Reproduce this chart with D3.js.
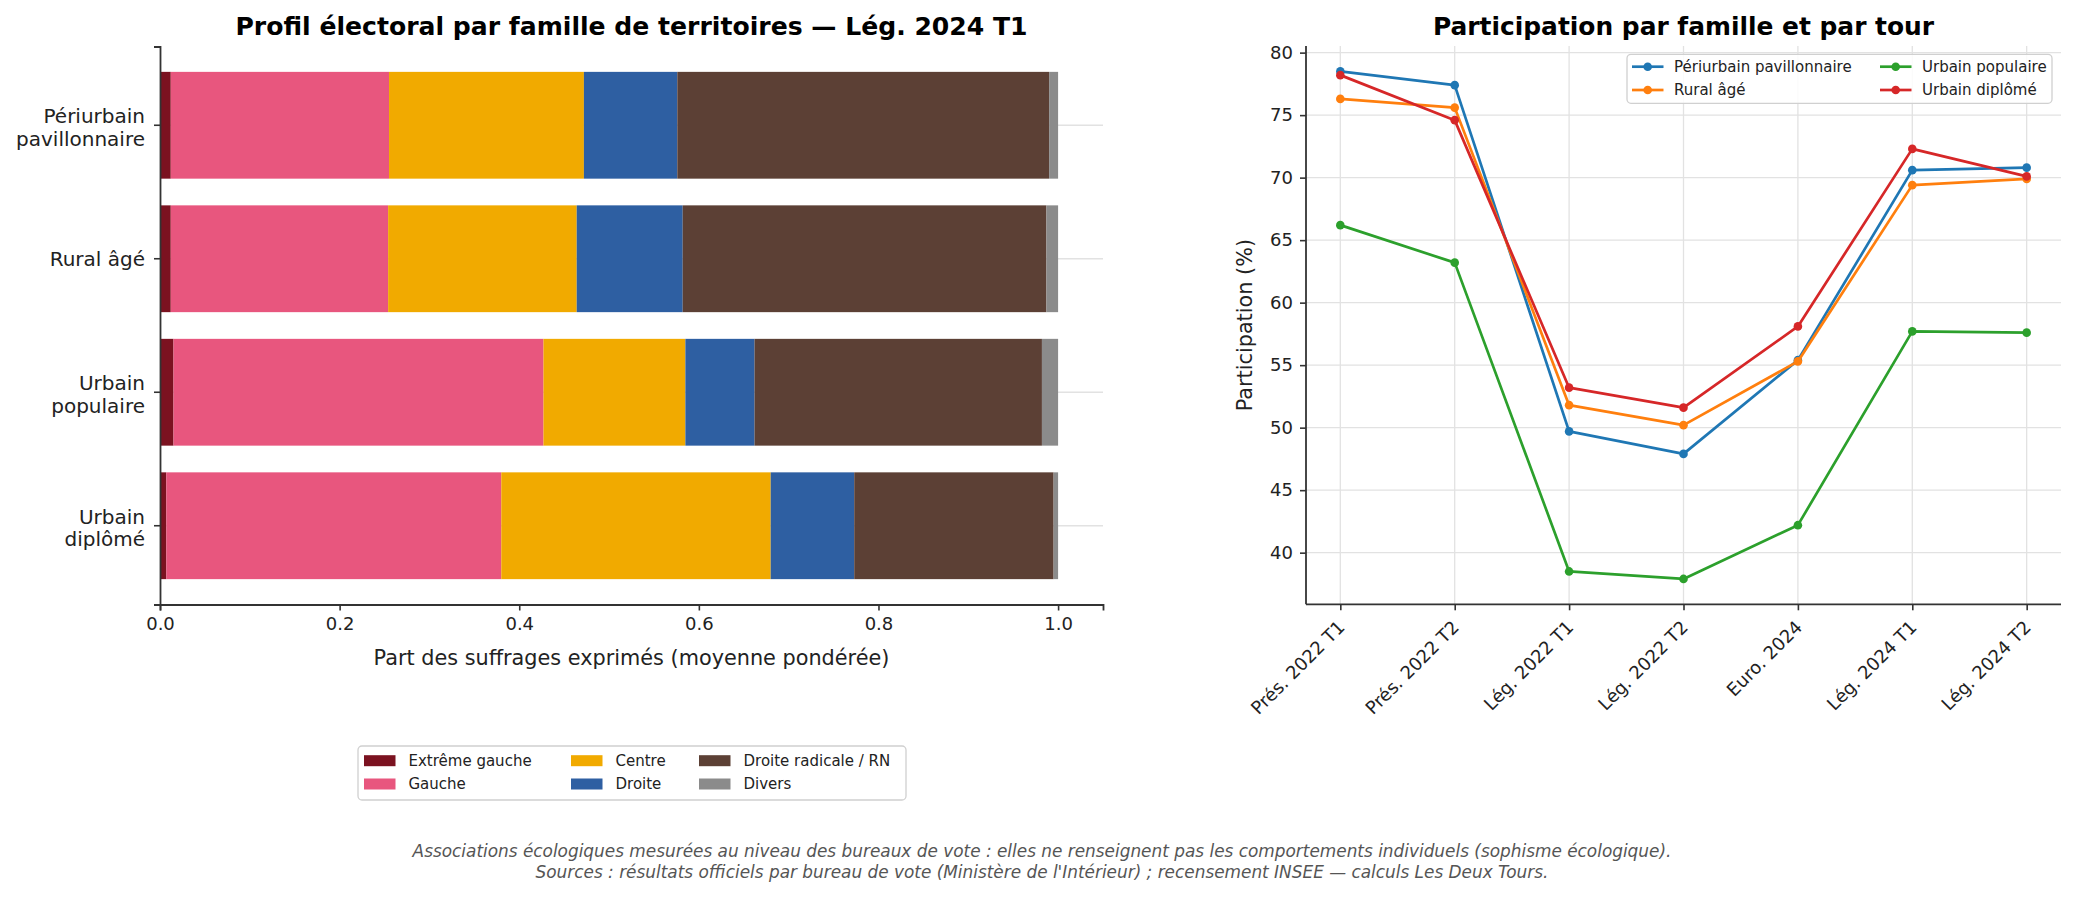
<!DOCTYPE html>
<html>
<head>
<meta charset="utf-8">
<script src="https://cdn.jsdelivr.net/npm/d3@7"></script>
<style>
  body { margin: 0; background: #fff; }
  svg { font-family: "DejaVu Sans", sans-serif; }
</style>
</head>
<body>
<div id="chart"></div>
<script>
// Left panel data: vote shares by family (Lég. 2024 T1)
const families = ["Périurbain pavillonnaire", "Rural âgé", "Urbain populaire", "Urbain diplômé"];
const familyLabels = [["Périurbain", "pavillonnaire"], ["Rural âgé"], ["Urbain", "populaire"], ["Urbain", "diplômé"]];
const blocs = ["Extrême gauche", "Gauche", "Centre", "Droite", "Droite radicale / RN", "Divers"];
const extremeGauche = [0.012, 0.012, 0.015, 0.007];
const gauche = [0.243, 0.242, 0.412, 0.373];
const centre = [0.217, 0.210, 0.158, 0.300];
const droite = [0.104, 0.118, 0.077, 0.093];
const droiteRadicale = [0.414, 0.405, 0.320, 0.222];
const divers = [0.010, 0.013, 0.018, 0.005];
const xTicks = [0, 0.2, 0.4, 0.6, 0.8, 1.0];

// Right panel data: turnout by round
const rounds = ["Prés. 2022 T1", "Prés. 2022 T2", "Lég. 2022 T1", "Lég. 2022 T2", "Euro. 2024", "Lég. 2024 T1", "Lég. 2024 T2"];
const periurbain = [78.5, 77.4, 49.7, 47.9, 55.4, 70.6, 70.8];
const rural = [76.3, 75.6, 51.8, 50.2, 55.3, 69.4, 69.9];
const urbainPop = [66.2, 63.2, 38.5, 37.9, 42.2, 57.7, 57.6];
const urbainDip = [78.2, 74.6, 53.2, 51.6, 58.1, 72.3, 70.1];
const yTicks = [40, 45, 50, 55, 60, 65, 70, 75, 80];

const blocColors = ["#7b1220", "#e8567e", "#f1aa00", "#2e5fa2", "#5c4035", "#8b8b8b"];
const lineColors = ["#1f77b4", "#ff7f0e", "#2ca02c", "#d62728"];

const W = 2075, H = 900;
const font = "DejaVu Sans";
const axisColor = "#333", gridColor = "#e2e2e2", textColor = "#222";

const svg = d3.select("#chart").append("svg")
  .attr("width", W).attr("height", H)
  .attr("font-family", font);

// ---------------- Left panel: stacked bars ----------------
const L = {left: 160, right: 1103, top: 46.5, bottom: 604.5};

const table = families.map((f, i) => ({
  family: f,
  "Extrême gauche": extremeGauche[i],
  "Gauche": gauche[i],
  "Centre": centre[i],
  "Droite": droite[i],
  "Droite radicale / RN": droiteRadicale[i],
  "Divers": divers[i]
}));
const series = d3.stack().keys(blocs)(table);

const x = d3.scaleLinear().domain([0, 1.05]).range([L.left, L.right]);
const y = d3.scaleBand().domain(families).range([L.top, L.bottom])
  .paddingInner(0.2).paddingOuter(0.19);

const left = svg.append("g");

// horizontal grid lines at each category
left.append("g").selectAll("line")
  .data(families)
  .join("line")
    .attr("x1", L.left).attr("x2", L.right)
    .attr("y1", d => y(d) + y.bandwidth() / 2)
    .attr("y2", d => y(d) + y.bandwidth() / 2)
    .attr("stroke", gridColor).attr("stroke-width", 1.3);

left.append("g").selectAll("g")
  .data(series)
  .join("g")
    .attr("fill", (d, i) => blocColors[i])
  .selectAll("rect")
  .data(d => d)
  .join("rect")
    .attr("x", d => x(d[0]))
    .attr("width", d => x(d[1]) - x(d[0]))
    .attr("y", d => y(d.data.family))
    .attr("height", y.bandwidth());

// x axis
const xAxis = left.append("g")
  .attr("transform", `translate(0,${L.bottom})`)
  .call(d3.axisBottom(x).tickValues(xTicks).tickFormat(d3.format(".1f")).tickSize(6).tickPadding(7))
  .attr("font-family", font);
xAxis.select(".domain").attr("stroke", axisColor).attr("stroke-width", 1.8);
xAxis.selectAll(".tick line").attr("stroke", axisColor).attr("stroke-width", 1.6);
xAxis.selectAll(".tick text").attr("font-size", 18).attr("fill", textColor);

// y axis
const yAxis = left.append("g")
  .attr("transform", `translate(${L.left},0)`)
  .call(d3.axisLeft(y).tickSize(6).tickFormat(""))
  .attr("font-family", font);
yAxis.select(".domain").attr("stroke", axisColor).attr("stroke-width", 1.8);
yAxis.selectAll(".tick line").attr("stroke", axisColor).attr("stroke-width", 1.6);
yAxis.selectAll(".tick").each(function(d, i) {
  const lines = familyLabels[i];
  const t = d3.select(this).append("text")
    .attr("text-anchor", "end")
    .attr("font-size", 20).attr("fill", textColor);
  lines.forEach((s, j) => {
    const base = lines.length === 1 ? 7.5 : -2 + j * 22.7;
    t.append("tspan").attr("x", -15).attr("y", base).text(s);
  });
});

left.append("text")
  .attr("x", (L.left + L.right) / 2).attr("y", 665)
  .attr("text-anchor", "middle").attr("font-size", 20.8).attr("fill", textColor)
  .text("Part des suffrages exprimés (moyenne pondérée)");

left.append("text")
  .attr("x", (L.left + L.right) / 2).attr("y", 34.5)
  .attr("text-anchor", "middle").attr("font-size", 25.1).attr("font-weight", "bold")
  .attr("fill", "#000")
  .text("Profil électoral par famille de territoires — Lég. 2024 T1");

// legend below the bars
const legL = left.append("g");
legL.append("rect")
  .attr("x", 358).attr("y", 746).attr("width", 548).attr("height", 54)
  .attr("rx", 4).attr("fill", "#fff").attr("stroke", "#d0d0d0").attr("stroke-width", 1.3);
const legColX = [364, 571, 699];
const legRowY = [760.7, 784];
blocs.forEach((b, i) => {
  const col = Math.floor(i / 2), row = i % 2;
  const g = legL.append("g");
  g.append("rect")
    .attr("x", legColX[col]).attr("y", legRowY[row] - 5.5)
    .attr("width", 31.5).attr("height", 11).attr("fill", blocColors[i]);
  g.append("text")
    .attr("x", legColX[col] + 44.5).attr("y", legRowY[row] + 5.3)
    .attr("font-size", 15).attr("fill", textColor).text(b);
});

// ---------------- Right panel: turnout lines ----------------
const R = {left: 1306, right: 2061, top: 46, bottom: 604.3};
const lineSeries = [
  {name: "Périurbain pavillonnaire", values: periurbain},
  {name: "Rural âgé", values: rural},
  {name: "Urbain populaire", values: urbainPop},
  {name: "Urbain diplômé", values: urbainDip}
];

const allVals = lineSeries.flatMap(s => s.values);
const [vMin, vMax] = d3.extent(allVals);
const pad = (vMax - vMin) * 0.05;

const xp = d3.scalePoint().domain(rounds).range([R.left, R.right]).padding(0.3);
const yp = d3.scaleLinear().domain([vMin - pad, vMax + pad]).range([R.bottom, R.top]);

const right = svg.append("g");

// grid
right.append("g").selectAll("line")
  .data(rounds)
  .join("line")
    .attr("x1", d => xp(d)).attr("x2", d => xp(d))
    .attr("y1", R.top).attr("y2", R.bottom)
    .attr("stroke", gridColor).attr("stroke-width", 1.3);
right.append("g").selectAll("line")
  .data(yTicks)
  .join("line")
    .attr("x1", R.left).attr("x2", R.right)
    .attr("y1", d => yp(d)).attr("y2", d => yp(d))
    .attr("stroke", gridColor).attr("stroke-width", 1.3);

const line = d3.line().x((d, i) => xp(rounds[i])).y(d => yp(d));

lineSeries.forEach((s, k) => {
  right.append("path")
    .datum(s.values)
    .attr("d", line)
    .attr("fill", "none")
    .attr("stroke", lineColors[k])
    .attr("stroke-width", 2.7)
    .attr("stroke-linejoin", "round");
  right.append("g").selectAll("circle")
    .data(s.values)
    .join("circle")
      .attr("cx", (d, i) => xp(rounds[i]))
      .attr("cy", d => yp(d))
      .attr("r", 4.3)
      .attr("fill", lineColors[k]);
});

const xpAxis = right.append("g")
  .attr("transform", `translate(0,${R.bottom})`)
  .call(d3.axisBottom(xp).tickSize(6).tickSizeOuter(0))
  .attr("font-family", font);
xpAxis.select(".domain").attr("d", `M${R.left},0H${R.right}`)
  .attr("stroke", axisColor).attr("stroke-width", 1.8);
xpAxis.selectAll(".tick line").attr("stroke", axisColor).attr("stroke-width", 1.6);
xpAxis.selectAll(".tick text")
  .attr("font-size", 18).attr("fill", textColor)
  .attr("text-anchor", "end")
  .attr("dy", null)
  .attr("y", 0)
  .attr("transform", "translate(5,24) rotate(-45)");

const ypAxis = right.append("g")
  .attr("transform", `translate(${R.left},0)`)
  .call(d3.axisLeft(yp).tickValues(yTicks).tickSize(6).tickPadding(7).tickSizeOuter(0))
  .attr("font-family", font);
ypAxis.select(".domain").attr("d", `M0,${R.top}V${R.bottom}`)
  .attr("stroke", axisColor).attr("stroke-width", 1.8);
ypAxis.selectAll(".tick line").attr("stroke", axisColor).attr("stroke-width", 1.6);
ypAxis.selectAll(".tick text").attr("font-size", 18).attr("fill", textColor);

right.append("text")
  .attr("transform", `translate(1252,${(R.top + R.bottom) / 2}) rotate(-90)`)
  .attr("text-anchor", "middle").attr("font-size", 20.8).attr("fill", textColor)
  .text("Participation (%)");

right.append("text")
  .attr("x", (R.left + R.right) / 2).attr("y", 34.5)
  .attr("text-anchor", "middle").attr("font-size", 24.9).attr("font-weight", "bold")
  .attr("fill", "#000")
  .text("Participation par famille et par tour");

// legend top right
const legR = right.append("g");
legR.append("rect")
  .attr("x", 1627).attr("y", 54.3).attr("width", 425).attr("height", 49)
  .attr("rx", 4).attr("fill", "#fff").attr("fill-opacity", 0.85)
  .attr("stroke", "#d0d0d0").attr("stroke-width", 1.3);
const legRColX = [1632, 1880];
const legRRowY = [66.7, 90];
lineSeries.forEach((s, k) => {
  const col = Math.floor(k / 2), row = k % 2;
  const cx = legRColX[col], cy = legRRowY[row];
  legR.append("line")
    .attr("x1", cx).attr("x2", cx + 31.5).attr("y1", cy).attr("y2", cy)
    .attr("stroke", lineColors[k]).attr("stroke-width", 2.7);
  legR.append("circle")
    .attr("cx", cx + 15.7).attr("cy", cy).attr("r", 4.3).attr("fill", lineColors[k]);
  legR.append("text")
    .attr("x", cx + 42).attr("y", cy + 5.3)
    .attr("font-size", 15).attr("fill", textColor).text(s.name);
});

// ---------------- Footnote ----------------
const foot = svg.append("g").attr("font-style", "italic").attr("font-size", 16.9).attr("fill", "#555")
  .attr("text-anchor", "middle");
foot.append("text").attr("x", W / 2 + 4.5).attr("y", 857)
  .text("Associations écologiques mesurées au niveau des bureaux de vote : elles ne renseignent pas les comportements individuels (sophisme écologique).");
foot.append("text").attr("x", W / 2 + 4.5).attr("y", 878)
  .text("Sources : résultats officiels par bureau de vote (Ministère de l'Intérieur) ; recensement INSEE — calculs Les Deux Tours.");
</script>
</body>
</html>
